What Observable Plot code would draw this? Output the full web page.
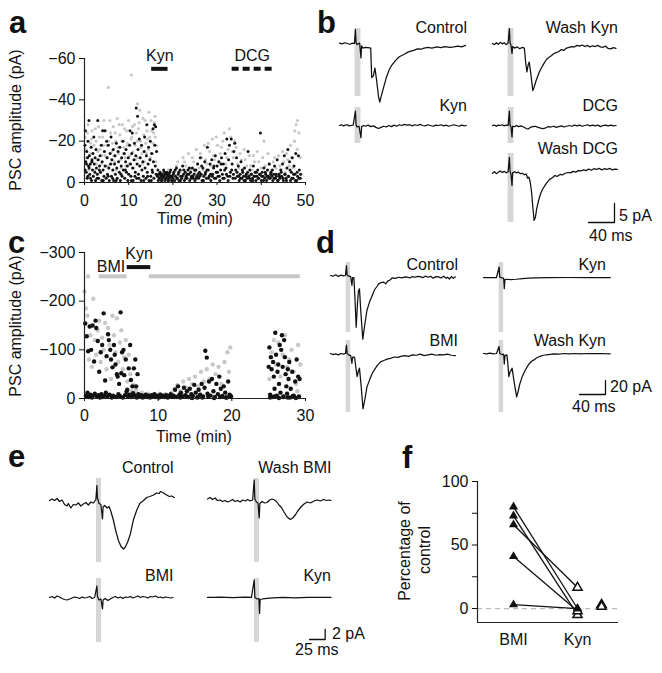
<!DOCTYPE html>
<html><head><meta charset="utf-8">
<script src="https://cdn.jsdelivr.net/npm/d3@7"></script>
<script src="https://cdn.jsdelivr.net/npm/@observablehq/plot@0.6"></script>
<style>
html,body{margin:0;padding:0;background:#fff;}
#fig{position:relative;width:662px;height:673px;overflow:hidden;font-family:"Liberation Sans",Arial,Helvetica,sans-serif;color:#111;background:#fff;}
</style></head><body><div id="fig"></div>
<script>
// ---------- Panel a: PSC amplitude over time (pA), [time min, amplitude pA]
const aBlack = [[0.1,-18],[0.2,-25],[0.3,-10],[0.4,-5],[0.5,-15],[0.6,-2],[0.7,-12],[0.8,-20],[0.9,-8],[1.0,-30],[1.1,-13],[1.2,-4],[1.3,-9],[1.5,-17],[1.6,-1],[1.7,-11],[1.8,-6],[1.9,-14],
[2.0,-3],[2.1,-22],[2.2,-9],[2.4,-12],[2.5,-1],[2.6,-16],[2.7,-7],[2.9,-4],[3.0,-30],[3.1,-11],[3.2,-2],[3.4,-8],[3.5,-13],[3.6,-5],[3.8,-18],[3.9,-1],
[4.0,-10],[4.1,-25],[4.2,-6],[4.4,-3],[4.5,-15],[4.6,-25],[4.7,-8],[4.9,-2],[5.0,-20],[5.1,-12],[5.2,-4],[5.4,-18],[5.5,-7],[5.6,-1],[5.8,-14],[5.9,-9],
[6.0,-22],[6.1,-3],[6.2,-11],[6.4,-6],[6.5,-16],[6.6,-1],[6.8,-9],[6.9,-13],[7.0,-4],[7.2,-19],[7.3,-7],[7.4,-2],[7.6,-15],[7.7,-10],[7.9,-5],
[8.0,-17],[8.1,-1],[8.3,-8],[8.4,-12],[8.5,-3],[8.7,-20],[8.8,-6],[9.0,-14],[9.1,-2],[9.3,-10],[9.4,-16],[9.5,-5],[9.7,-8],[9.8,-1],[9.9,-12],
[10.0,-4],[10.2,-18],[10.3,-25],[10.4,-9],[10.5,-3],[10.7,-14],[10.8,-24],[10.9,-7],[11.0,-1],[11.2,-11],[11.3,-19],[11.5,-5],[11.6,-13],[11.7,-36],[11.8,-2],[11.9,-9],
[12.0,-32],[12.1,-16],[12.2,-4],[12.4,-21],[12.5,-8],[12.6,-12],[12.8,-1],[12.9,-18],[13.0,-6],[13.2,-10],[13.3,-3],[13.5,-15],[13.6,-22],[13.7,-7],[13.9,-2],
[14.0,-13],[14.1,-28],[14.2,-5],[14.4,-9],[14.5,-17],[14.6,-1],[14.8,-11],[14.9,-20],[15.0,-3],[15.2,-14],[15.3,-6],[15.5,-26],[15.6,-10],[15.7,-2],[15.8,-28],[15.9,-18],[16.0,-8],[16.1,-27],[16.2,-4],[16.3,-15],
[0.15,-6],[0.45,-9],[0.75,-3],[1.05,-7],[1.35,-2],[1.65,-10],[2.35,-5],[2.85,-2],[3.35,-6],[4.25,-1],[5.35,-3],[6.35,-2],[7.15,-1],[8.25,-4],[9.25,-6],[10.6,-1],[11.4,-3],[12.3,-2],[13.4,-1],[14.3,-3],[15.1,-1],[15.4,-5],
[16.5,-3],[16.7,-1],[16.8,-4],[17.0,-2],[17.1,-5],[17.3,-3],[17.4,-1],[17.6,-4],[17.7,-2],[17.9,-6],[18.0,-3],[18.2,-1],[18.3,-4],[18.5,-2],[18.6,-5],[18.8,-3],[18.9,-1],[19.1,-4],[19.2,-2],[19.4,-3],[19.5,-6],[19.7,-1],[19.8,-3],
[16.6,-6],[16.9,-2],[17.2,-4],[17.5,-1],[17.8,-3],[18.1,-5],[18.4,-2],[18.7,-4],[19.0,-1],[19.3,-5],[19.6,-3],[19.9,-1],[20.1,-4],[20.5,-6],[20.9,-2],[21.3,-5],[21.7,-1],[22.1,-3],[22.5,-6],[22.9,-2],[23.3,-4],[23.7,-7],[24.1,-2],[24.5,-3],[24.9,-6],
[20.0,-2],[20.2,-5],[20.4,-1],[20.6,-3],[20.8,-7],[21.0,-2],[21.2,-4],[21.4,-1],[21.6,-6],[21.8,-3],[22.0,-2],[22.2,-8],[22.4,-4],[22.6,-1],[22.8,-5],[23.0,-3],[23.2,-2],[23.4,-6],[23.6,-4],[23.8,-1],[24.0,-5],[24.2,-3],[24.4,-7],[24.6,-2],[24.8,-4],
[25.0,-1],[25.2,-6],[25.4,-3],[25.6,-9],[25.8,-2],[26.0,-5],[26.2,-12],[26.4,-4],[26.6,-1],[26.8,-7],[27.0,-3],[27.2,-10],[27.4,-5],[27.6,-2],[27.8,-17],[28.0,-6],[28.2,-3],[28.4,-9],[28.6,-1],[28.8,-11],[29.0,-4],[29.2,-7],[29.4,-2],[29.6,-13],[29.8,-5],
[25.3,-2],[25.7,-4],[26.1,-3],[26.5,-8],[26.9,-1],[27.3,-4],[27.7,-6],[28.1,-2],[28.5,-4],[28.9,-3],[29.3,-8],[29.7,-2],
[30.0,-8],[30.2,-3],[30.4,-10],[30.6,-1],[30.8,-6],[31.0,-12],[31.2,-4],[31.4,-9],[31.6,-2],[31.8,-14],[32.0,-7],[32.2,-21],[32.4,-3],[32.6,-11],[32.8,-18],[33.0,-5],[33.2,-21],[33.4,-9],[33.6,-2],[33.8,-15],[34.0,-19],[34.2,-6],[34.4,-12],[34.6,-3],[34.8,-8],
[30.1,-5],[30.5,-3],[30.9,-9],[31.3,-2],[31.7,-6],[32.1,-4],[32.5,-1],[32.9,-3],[33.3,-6],[33.7,-4],[34.1,-2],[34.5,-5],[34.9,-3],
[35.0,-1],[35.2,-4],[35.4,-10],[35.6,-2],[35.8,-5],[36.0,-3],[36.2,-7],[36.4,-1],[36.6,-4],[36.8,-2],[37.0,-15],[37.2,-3],[37.4,-6],[37.6,-1],[37.8,-4],[38.0,-2],[38.2,-8],[38.4,-3],[38.6,-5],[38.8,-1],[39.0,-3],[39.2,-6],[39.4,-2],[39.6,-4],[39.8,-24],[40.0,-1],
[35.3,-2],[35.7,-6],[36.1,-1],[36.5,-3],[36.9,-5],[37.3,-2],[37.7,-4],[38.1,-1],[38.5,-3],[38.9,-5],[39.3,-2],[39.7,-4],
[40.2,-5],[40.4,-3],[40.6,-7],[40.8,-2],[41.0,-4],[41.2,-1],[41.4,-6],[41.6,-3],[41.8,-9],[42.0,-2],[42.2,-5],[42.4,-3],[42.6,-1],[42.8,-4],[43.0,-8],[43.2,-2],[43.4,-3],[43.6,-11],[43.8,-1],[44.0,-4],[44.2,-2],[44.4,-6],[44.6,-3],[44.8,-9],
[40.1,-3],[40.5,-1],[40.9,-5],[41.3,-3],[41.7,-2],[42.1,-4],[42.5,-6],[42.9,-2],[43.3,-4],[43.7,-1],[44.1,-3],[44.5,-5],[44.9,-2],
[45.0,-1],[45.2,-13],[45.4,-4],[45.6,-2],[45.8,-7],[46.0,-16],[46.2,-3],[46.4,-10],[46.6,-1],[46.8,-5],[47.0,-12],[47.2,-2],[47.4,-8],[47.6,-4],[47.8,-14],[48.0,-1],[48.2,-3],[48.4,-13],[48.6,-6],[48.8,-2],
[45.3,-4],[45.7,-1],[46.1,-3],[46.5,-6],[46.9,-2],[47.3,-4],[47.7,-1],[48.1,-5],[48.5,-2],[48.9,-4]];
const aGray = [[0.2,-22],[0.5,-12],[0.8,-28],[1.1,-8],[1.4,-19],[1.7,-25],[2.0,-14],[2.3,-6],[2.6,-20],[2.9,-11],[3.2,-27],[3.5,-16],[3.8,-9],[4.1,-22],[4.4,-30],[4.7,-13],[5.0,-18],[5.3,-8],[5.4,-46],[5.9,-24],[6.2,-15],[6.5,-27],[6.8,-10],[7.1,-20],[7.4,-31],[7.7,-14],[8.0,-23],[8.3,-7],[8.6,-28],[8.9,-17],[9.2,-12],[9.5,-25],[9.8,-19],[10.1,-9],[10.6,-52],[10.7,-22],[11.0,-15],[11.3,-28],[11.6,-11],[11.9,-20],[12.0,-38],[12.2,-26],[12.5,-35],[12.8,-17],[13.1,-9],[13.4,-23],[13.7,-30],[14.0,-14],[14.3,-21],[14.6,-34],[14.9,-12],[15.2,-25],[15.5,-19],[15.8,-29],[16.0,-22],[16.2,-10],
[0.35,-16],[0.65,-24],[0.95,-6],[1.25,-14],[1.55,-21],[1.85,-10],[2.15,-18],[2.45,-26],[2.75,-9],[3.05,-15],[3.35,-22],[3.65,-5],[3.95,-13],[4.25,-18],[4.55,-8],[4.85,-25],[5.15,-12],[5.45,-20],[5.75,-30],[6.05,-9],[6.35,-19],[6.65,-13],[6.95,-24],[7.25,-6],[7.55,-17],[7.85,-28],[8.15,-11],[8.45,-20],[8.75,-14],[9.05,-26],[9.35,-8],[9.65,-18],[9.95,-30],[10.25,-13],[10.55,-21],[10.85,-27],[11.15,-7],[11.45,-18],[11.75,-24],[12.05,-12],[12.35,-29],[12.65,-20],[12.95,-14],[13.25,-31],[13.55,-10],[13.85,-19],[14.15,-25],[14.45,-16],[14.75,-22],[15.05,-30],[15.35,-14],[15.65,-24],[15.95,-32],[16.25,-18],
[16.6,-4],[17.2,-2],[17.8,-5],[18.4,-3],[19.0,-6],[19.6,-2],
[20.2,-4],[20.8,-8],[21.4,-3],[22.0,-6],[22.6,-10],[23.2,-4],[23.8,-7],[24.4,-12],[25.0,-5],[25.6,-9],[26.2,-14],[26.8,-6],[27.4,-11],[28.0,-19],[28.6,-8],[29.2,-13],[29.8,-22],[30.4,-10],[31.0,-17],[31.6,-24],[32.2,-12],[32.8,-26],[33.4,-15],[34.0,-20],[34.6,-9],[35.2,-14],[35.8,-6],[36.4,-11],[37.0,-4],[37.6,-8],[38.2,-13],[38.8,-5],[39.4,-10],[40.0,-7],[40.6,-20],[41.2,-3],[41.8,-9],[42.4,-6],[43.0,-12],[43.6,-4],[44.2,-8],[44.8,-15],[45.4,-5],[46.0,-11],[46.6,-18],[47.2,-7],[47.6,-25],[47.9,-28],[48.2,-30],[48.5,-24],[48.8,-12],
[20.5,-6],[21.1,-10],[21.7,-5],[22.3,-12],[22.9,-8],[23.5,-14],[24.1,-6],[24.7,-10],[25.3,-16],[25.9,-7],[26.5,-12],[27.1,-18],[27.7,-9],[28.3,-15],[28.9,-21],[29.5,-11],[30.1,-18],[30.7,-14],[31.3,-20],[31.9,-9],[32.5,-16],[33.1,-22],[33.7,-12],[34.3,-17],[34.9,-7],[35.5,-11],[36.1,-16],[36.7,-8],[37.3,-13],[37.9,-6],[38.5,-10],[39.1,-15],[39.7,-4],[40.3,-12],[40.9,-8],[41.5,-14],[42.1,-5],[42.7,-10],[43.3,-7],[43.9,-13],[44.5,-6],[45.1,-10],[45.7,-14],[46.3,-8],[46.9,-12],[47.5,-20],[48.1,-16]];
const aXTicks = [0, 10, 20, 30, 40, 50];
const aYTicks = [-60, -40, -20, 0];
const aDrugs = ["Kyn", "DCG"];
const aDrugStart = [15.2, 33.4];
const aDrugEnd = [18.9, 42.5];

// ---------- Panel c
const cBlack = [[0.1,-154],[0.3,-128],[0.5,-97],[0.7,-148],[0.9,-100],[1.1,-150],[1.3,-76],[1.5,-160],[1.6,-145],[1.8,-118],[2.0,-55],[2.2,-95],[2.4,-110],[2.6,-175],[2.8,-37],[3.0,-87],[3.2,-132],[3.3,-120],[3.5,-100],[3.6,-80],[3.8,-64],[4.0,-110],[4.1,-90],[4.2,-70],[4.4,-50],[4.5,-45],[4.7,-30],[4.9,-177],[5.0,-52],[5.1,-95],[5.3,-100],[5.4,-48],[5.6,-80],[5.8,-18],[6.0,-62],[6.2,-110],[6.3,-38],[6.5,-25],[6.7,-62],[6.9,-80],[7.0,-25],[7.2,-50],
[0.2,-5],[0.4,-12],[0.6,-3],[0.8,-8],[1.0,-2],[1.2,-6],[1.4,-10],[1.7,-4],[1.9,-7],[2.1,-2],[2.3,-9],[2.5,-3],[2.7,-6],[2.9,-12],[3.1,-4],[3.4,-8],[3.7,-2],[3.9,-6],[4.3,-3],[4.6,-9],[4.8,-5],[5.2,-2],[5.5,-7],[5.7,-14],[5.9,-4],[6.1,-8],[6.4,-3],[6.6,-11],[6.8,-6],[7.1,-2],[7.3,-9],[7.5,-4],[7.7,-7],[7.9,-2],
[8.1,-5],[8.3,-8],[8.5,-3],[8.7,-6],[8.9,-2],[9.1,-7],[9.3,-4],[9.5,-9],[9.7,-3],[9.9,-6],[10.1,-2],[10.3,-8],[10.5,-4],[10.7,-6],[10.9,-3],[11.1,-7],[11.3,-2],[11.5,-5],[11.7,-9],[11.9,-4],
[12.1,-6],[12.3,-18],[12.5,-3],[12.7,-25],[12.9,-8],[13.1,-12],[13.3,-4],[13.5,-22],[13.7,-7],[13.9,-15],[14.1,-3],[14.3,-20],[14.5,-9],[14.7,-5],[14.9,-28],[15.1,-12],[15.3,-2],[15.5,-18],[15.7,-8],[15.9,-30],[16.1,-4],[16.3,-22],[16.4,-98],[16.6,-84],[16.7,-10],[16.9,-35],[17.1,-6],[17.3,-40],[17.5,-15],[17.7,-3],[17.9,-30],[18.1,-9],[18.3,-45],[18.5,-20],[18.7,-5],[18.9,-25],[19.1,-12],[19.3,-2],[19.5,-35],[19.7,-8],[19.9,-4],
[12.2,-3],[13.0,-2],[13.8,-4],[14.6,-1],[15.4,-3],[16.0,-2],[16.8,-4],[17.6,-1],[18.4,-3],[19.2,-2],[19.8,-5],
[25.0,-65],[25.1,-105],[25.2,-8],[25.3,-85],[25.4,-60],[25.5,-3],[25.6,-75],[25.7,-45],[25.8,-20],[25.9,-135],[26.0,-90],[26.1,-6],[26.2,-55],[26.3,-70],[26.4,-30],[26.5,-110],[26.6,-12],[26.7,-100],[26.8,-130],[26.9,-65],[27.0,-4],[27.1,-120],[27.2,-85],[27.3,-50],[27.4,-25],[27.5,-10],[27.6,-60],[27.7,-40],[27.8,-75],[27.9,-2],[28.0,-20],[28.2,-55],[28.4,-6],[28.6,-35],[28.8,-80],[29.0,-45],[29.1,-4],[29.2,-40],
[25.2,-2],[25.8,-4],[26.4,-1],[27.0,-3],[27.6,-2],[28.3,-5],[28.7,-1],[29.1,-3]];
const cGray = [[0.0,-220],[0.2,-185],[0.4,-170],[0.6,-80],[0.8,-130],[1.0,-65],[1.2,-205],[1.4,-120],[1.6,-90],[1.8,-140],[2.0,-160],[2.2,-75],[2.4,-125],[2.6,-100],[2.8,-155],[3.0,-60],[3.2,-145],[3.4,-110],[3.6,-40],[3.8,-170],[4.0,-130],[4.2,-95],[4.4,-165],[4.6,-75],[4.8,-115],[5.0,-140],[5.2,-60],[5.4,-85],[5.6,-120],[5.8,-35],[6.0,-90],[6.2,-50],[6.4,-15],[6.6,-28],[6.8,-10],[7.0,-18],[7.4,-8],[7.8,-12],[8.2,-6],[8.6,-10],[9.0,-4],[9.4,-8],[9.8,-5],[10.2,-10],[10.6,-6],[11.0,-9],[11.4,-5],[11.8,-12],
[12.2,-20],[12.6,-28],[13.0,-15],[13.4,-35],[13.8,-22],[14.2,-40],[14.6,-30],[15.0,-45],[15.4,-25],[15.8,-55],[16.2,-35],[16.6,-60],[17.0,-40],[17.4,-70],[17.8,-50],[18.2,-65],[18.6,-30],[19.0,-75],[19.4,-95],[19.6,-55],[19.8,-105],
[25.1,-40],[25.4,-95],[25.7,-120],[26.0,-70],[26.3,-115],[26.6,-45],[26.9,-90],[27.2,-130],[27.5,-65],[27.8,-80],[28.1,-100],[28.4,-55],[28.7,-30],[28.9,-15],[29.0,-110],[29.3,-70]];
const cXTicks = [0, 10, 20, 30];
const cYTicks = [-300, -200, -100, 0];
const cGrayBarStart = [0.3, 2.0, 8.8];
const cGrayBarEnd = [0.8, 5.8, 29.3];
const cKynStart = 5.8, cKynEnd = 9.0;

// ---------- Traces [time ms, current pA]
const bControl = [[0,0.1],[4,-0.1],[8,0.2],[12,0],[16,-0.2],[20,0.1],[23,0],[24.5,3.7],[25.5,0.2],[27,-0.3],[29,0],[31,0.1],[33,-3.8],[34,-0.6],[36,-1.2],[40,-1],[44,-1.1],[48,-1.2],[49.5,-9],[52,-8.5],[54.5,-6.5],[57,-9.5],[60,-14],[62,-15.4],[64,-14],[68,-11.5],[72,-9],[76,-7.1],[80,-5.8],[86,-4.5],[92,-3.5],[99,-2.9],[106,-2.2],[114,-1.8],[120,-1.4],[126,-1.5],[130,-1.2],[136,-1],[142,-1.2],[150,-0.9],[156,-1.1],[162,-0.8],[170,-1],[176,-0.9],[182,-0.7],[188,-0.9],[194,-0.5]];
const bKyn = [[0,0],[3,0.2],[6,-0.1],[9,0.1],[12,0.2],[15,-0.1],[18,0],[21,0.1],[24.5,3.8],[25.5,0.1],[27,-0.4],[30,-0.2],[33,-3.2],[34,-0.3],[37,0],[40,-0.2],[44,0.1],[48,-0.3],[52,-0.1],[56,-0.5],[60,-0.8],[64,-0.5],[68,-0.2],[72,-0.4],[76,0],[80,-0.3],[84,0.1],[88,-0.2],[92,0.2],[96,0],[100,0.3],[104,0.1],[108,0.2],[112,-0.1],[116,0.2],[120,0],[124,0.3],[128,0],[132,-0.1],[136,0.2],[140,0],[144,-0.2],[148,0.1],[152,0],[156,0.2],[160,-0.1],[164,0.1],[168,-0.2],[172,0],[176,0.2],[180,0],[184,-0.2],[188,0.1],[192,-0.1],[195,0]];
const bWashKyn = [[0,0],[3,-0.3],[6,0.2],[9,-0.2],[12,0.3],[15,-0.1],[18,0.2],[21,-0.3],[24,0.1],[26,3.9],[27,0.2],[28.5,-0.5],[30,-2.6],[31,-0.8],[34,-1.2],[38,-0.9],[42,-1.4],[46,-1],[49,-1.2],[51,-5],[53,-7.5],[55,-5.5],[56.5,-4.9],[59,-8],[62,-12.4],[64,-11.5],[67,-9.8],[69,-8.9],[72,-7.5],[75,-6.5],[79,-5.3],[83,-4.2],[87,-3.6],[90,-3.3],[94,-2.7],[98,-2.4],[102,-2.1],[106,-1.6],[110,-1.8],[114,-1.2],[118,-1.0],[122,-0.8],[126,-0.9],[130,-0.5],[134,-0.7],[138,-0.4],[142,-0.8],[146,-0.5],[150,-0.9],[154,-0.6],[158,-0.8],[162,-0.5],[166,-0.9],[170,-1],[174,-0.7],[178,-1.3],[182,-1.4],[186,-1.1],[190,-1.3]];
const bDCG = [[0,0],[3,0.1],[6,-0.2],[9,0.1],[12,0],[15,0.2],[18,-0.1],[21,0.1],[24,0],[26,3.8],[27,0.1],[28.5,-0.4],[30,-3],[31,-0.2],[34,-0.3],[37,0],[40,-0.3],[44,-0.1],[48,-0.4],[52,-0.8],[55,-0.9],[58,-0.5],[62,-0.3],[66,-0.2],[70,-0.5],[74,-0.7],[78,-0.8],[82,-0.6],[86,-0.3],[90,-0.4],[94,-0.2],[98,-0.5],[102,-0.3],[106,-0.1],[110,-0.4],[114,-0.2],[118,0],[122,-0.2],[126,0.1],[130,-0.1],[134,0.1],[138,-0.2],[142,0],[146,0.2],[150,-0.1],[154,0.1],[158,-0.1],[162,0.1],[166,-0.3],[170,0],[174,0.1],[178,-0.1],[182,0.1],[186,-0.1],[190,0]];
const bWashDCG = [[0,-0.2],[3,0.2],[6,-0.3],[9,0.1],[12,0.4],[15,0],[18,0.3],[21,-0.1],[24,0.2],[26,4],[27,0.3],[28.5,-0.5],[30,-3.4],[31,-0.1],[34,0.2],[37,-0.1],[40,0.1],[43,-0.3],[46,-0.2],[49,-0.6],[52,-0.4],[54,-1.5],[56,-1.2],[58,-2.5],[60,-5],[62,-9],[64,-12.6],[66,-11.8],[68,-9.5],[71,-7.3],[74,-5.6],[77,-4.4],[80,-3.6],[84,-2.6],[88,-1.8],[92,-1.4],[96,-0.8],[100,-1],[104,-0.5],[108,-0.6],[112,-0.2],[116,0],[120,-0.1],[124,0.3],[128,0.1],[132,0.5],[136,0.4],[140,0.7],[144,0.5],[148,0.9],[152,0.6],[156,1.0],[160,0.8],[164,1.1],[168,0.7],[172,1.0],[176,0.8],[180,1.1],[184,0.7],[188,0.9],[192,0.8]];
const dControl = [[0,0],[4,-1],[8,1],[12,-1.5],[16,0.5],[20,-0.5],[23,0],[24.6,14],[25.5,1],[28,-1],[31,-1.5],[33,-14],[34,-3],[36,-3],[37.5,-30],[39.5,-74],[41.5,-40],[43,-22],[44.6,-19],[46.5,-50],[49.7,-91],[52,-75],[56,-50],[60,-38],[64,-29],[68,-20],[72,-15],[74,-12],[78,-10],[82,-9.5],[85,-12],[88,-8],[92,-6],[95,-3.3],[100,-4],[105,-2.5],[110,-3.5],[115,-2],[118,-2.4],[122,-3.5],[126,-1.5],[130,-2.5],[134,-1.2],[138,-1.5],[142,-3],[146,-1],[150,-2.5],[154,-1.2],[158,-4],[162,-1.5],[166,-2],[170,-3.5],[174,-1],[178,-4],[180,-2.5],[183,-5],[186,-1.5],[189,-4],[192,-2]];
const dKyn = [[0,0],[10,0],[20,0],[24,15],[25,0.5],[28,-0.5],[31,-1],[32,-16],[33,-3],[36,-2.5],[42,-3],[50,-2.5],[60,-1.5],[70,-1],[80,-0.5],[100,-0.3],[130,0],[160,0],[195,0]];
const dBMI = [[0,0],[4,-1.5],[8,-0.5],[12,-2],[16,0],[20,-1],[23,0],[24.6,12],[25.5,0],[28,-2],[31,-3],[33,-14],[34,-5],[37,-5],[39,-20],[41,-33],[43,-25],[44.6,-21],[47,-45],[50,-79],[53,-65],[56,-48],[60,-38],[64,-29],[67,-24],[72,-17],[77,-12],[82,-10],[87,-8],[92,-7],[98,-5],[104,-5.5],[108,-4],[114,-3],[120,-4],[126,-2],[132,-2.5],[138,-1],[144,-3],[150,-2],[156,-1],[162,-2.5],[168,-1.5],[174,-2],[180,-1],[186,-2.5],[192,-3]];
const dWashKyn = [[0,0],[5,-0.5],[10,0.5],[15,-0.5],[20,0],[24,10],[25,0],[28,-1.5],[31,-1],[32,-15],[33,-3],[36,-2],[37.5,-15],[39,-33],[41,-26],[44,-21],[47,-40],[51,-62],[53,-55],[56,-43],[60,-32],[63,-26],[66,-21],[70,-15],[74,-11],[77,-9.5],[82,-6],[87,-4],[92,-2.5],[100,-1.5],[108,-0.5],[116,-1],[124,0],[132,-0.5],[140,0],[150,-0.5],[160,0],[170,-0.3],[180,0],[195,-0.5]];
const eControl = [[0,0],[4,0.3],[8,0],[12,0.4],[16,-0.2],[20,0.1],[24,-0.8],[28,-1.1],[30,-0.6],[34,-1.5],[38,-0.8],[42,-0.9],[46,-0.5],[50,-1.1],[54,-0.7],[58,-0.4],[62,-0.9],[66,-0.3],[70,-0.5],[74,0.2],[75.6,3],[76.5,0.5],[79,-0.6],[82,-0.8],[84.5,-3.7],[85.5,-1.3],[88,-1.0],[92,-1.5],[95,-1.2],[98,-2.2],[102,-4],[106,-6.2],[110,-8],[114,-9.2],[118,-9.7],[121,-9.3],[125,-8.2],[129,-6.7],[134,-3.8],[139,-2],[144,-0.6],[150,0],[155,0.6],[160,0.8],[166,1.1],[171,1.5],[175,1.4],[177,1.8],[181,1.6],[184,1.3],[187,1.1],[191,0.8],[195,0.9],[199,0.6]];
const eWashBMI = [[0,0.3],[4,0.6],[8,0.2],[12,0.5],[16,0],[20,0.1],[24,-0.2],[28,0],[32,-0.3],[36,-0.1],[40,0.2],[44,-0.2],[48,0],[52,-0.3],[56,0.1],[60,-0.1],[64,0.2],[68,-0.1],[72,0.1],[74.5,4.1],[75.5,0.3],[78,-0.3],[80.5,-0.5],[82.5,-3.5],[83.5,-0.6],[87,-0.2],[91,-0.5],[95,-0.4],[99,0.1],[103,0.3],[107,0.1],[110,-0.2],[114,-0.9],[118,-1.4],[122,-2.3],[127,-3.3],[132,-3.8],[136,-3.5],[140,-2.9],[144,-2.1],[149,-1.3],[154,-0.7],[159,-0.3],[164,-0.5],[170,-0.1],[175,0.1],[180,-0.1],[185,0.2],[190,0],[194,0.1],[197,0]];
const eBMI = [[0,0],[4,0.2],[8,-0.1],[12,0.3],[16,0.1],[20,-0.2],[24,-0.4],[28,-0.5],[32,-0.3],[36,-0.1],[40,0.1],[44,0],[48,-0.2],[52,0.1],[56,-0.1],[60,0],[64,0.2],[68,-0.2],[72,0],[75.6,2.3],[76.5,0.2],[79,-0.5],[82,-0.3],[84.5,-2.3],[85.5,-0.5],[89,-0.2],[93,-0.6],[97,-0.3],[101,0],[105,0.2],[109,-0.1],[113,0.1],[117,-0.2],[121,0.1],[125,0],[129,0.2],[133,-0.1],[137,0.1],[141,0.3],[145,0],[149,0.2],[153,0.1],[157,-0.1],[161,0.2],[165,0.1],[169,0.3],[173,0],[177,0.1],[181,-0.1],[185,0.1],[189,0],[193,-0.1],[197,0]];
const eKyn = [[0,0],[10,0],[20,0.05],[30,0],[40,-0.05],[50,0],[60,0.05],[70,0],[74.5,3.5],[75.5,0],[79,-0.3],[82,-0.2],[83,-3.2],[84,-0.4],[88,-0.3],[95,-0.2],[105,-0.1],[120,0],[140,-0.1],[160,0],[180,0],[197,0]];
// stimulus windows (ms) and scale bars [ms, pA]
const stimB = [24, 33], stimD = [24, 31], stimE = [75, 83];
const scaleB = [40, 5], scaleD = [40, 20], scaleE = [25, 2];

// ---------- Panel f: percentage of control
const fGroups = ["BMI", "Kyn"];
const fGroupX = [1, 2, 2.375];
const fBMI = [80, 73, 66, 41, 3];
const fKyn = [0, -5, 16.5, -2, 0];
const fKynOpen = [false, true, true, true, false];
const fKynOnly = [3, 1.5];
const fYTicks = [0, 25, 50, 75, 100];

// ================= drawing =================
const fig = document.getElementById("fig");
const FONT = "'Liberation Sans', Arial, Helvetica, sans-serif";
const FS = 16;
const baseStyle = {fontFamily: FONT, fontSize: FS + "px", color: "#111", background: "transparent", overflow: "visible"};
const INK = "#111";

function place(node, left, top) {
  node.style.position = "absolute";
  node.style.left = left + "px";
  node.style.top = top + "px";
  fig.appendChild(node);
}
function label(s, x, y, o = {}) {
  const fs = o.size || FS;
  const d = document.createElement("div");
  d.textContent = s;
  d.style.position = "absolute";
  d.style.whiteSpace = "nowrap";
  d.style.lineHeight = "1";
  d.style.fontSize = fs + "px";
  d.style.fontWeight = o.bold ? "bold" : "normal";
  d.style.left = x + "px";
  if (o.rotate) {
    d.style.top = y + "px";
    d.style.transform = "translate(-50%,-50%) rotate(-90deg)";
  } else {
    d.style.top = (o.baseline ? y - 0.8465 * fs : y - 0.4885 * fs) + "px";
    d.style.transform = o.anchor === "end" ? "translateX(-100%)" : o.anchor === "middle" ? "translateX(-50%)" : "none";
  }
  fig.appendChild(d);
}

// Panel a
place(Plot.plot({
  width: 330, height: 180, marginLeft: 84, marginRight: 25, marginTop: 28, marginBottom: 28,
  style: baseStyle,
  x: {domain: [0, 50]},
  y: {domain: [0, -60]},
  marks: [
    Plot.dot(aGray, {x: d => d[0], y: d => d[1], r: 1.6, fill: "#c8c8c8"}),
    Plot.dot(aBlack, {x: d => d[0], y: d => d[1], r: 1.5, fill: INK}),
    Plot.ruleX([0], {stroke: "#222", strokeWidth: 1.2}),
    Plot.ruleY([0], {stroke: "#222", strokeWidth: 1.2}),
    Plot.axisY({ticks: aYTicks, tickSize: 5, tickPadding: 4, label: null}),
    Plot.axisX({ticks: aXTicks, tickSize: 3, tickPadding: 9, label: null}),
    Plot.ruleY([0], {y: -55, x1: aDrugStart[0], x2: aDrugEnd[0], stroke: INK, strokeWidth: 4}),
    Plot.ruleY([0], {y: -55, x1: aDrugStart[1], x2: aDrugEnd[1], stroke: INK, strokeWidth: 4, strokeDasharray: "7,4"}),
    Plot.text(aDrugs, {x: (d, i) => (aDrugStart[i] + aDrugEnd[i]) / 2, y: -55, dy: -13, text: d => d, fill: INK})
  ]
}), 0, 30);
label("PSC amplitude (pA)", 16, 120, {rotate: true});
label("Time (min)", 195, 219, {anchor: "middle"});

// Panel c
place(Plot.plot({
  width: 330, height: 190, marginLeft: 84, marginRight: 25, marginTop: 22, marginBottom: 22,
  style: baseStyle,
  x: {domain: [0, 30]},
  y: {domain: [0, -300]},
  marks: [
    Plot.dot(cGray, {x: d => d[0], y: d => d[1], r: 2.2, fill: "#c8c8c8"}),
    Plot.dot(cBlack, {x: d => d[0], y: d => d[1], r: 2.2, fill: INK}),
    Plot.ruleX([0], {stroke: "#222", strokeWidth: 1.2}),
    Plot.ruleY([0], {stroke: "#222", strokeWidth: 1.2}),
    Plot.axisY({ticks: cYTicks, tickSize: 5, tickPadding: 4, label: null}),
    Plot.axisX({ticks: cXTicks, tickSize: 3, tickPadding: 8.5, label: null}),
    Plot.ruleY(cGrayBarStart, {y: -251, x1: d => d, x2: (d, i) => cGrayBarEnd[i], stroke: "#c8c8c8", strokeWidth: 4}),
    Plot.ruleY([0], {y: -270, x1: cKynStart, x2: cKynEnd, stroke: INK, strokeWidth: 4}),
    Plot.text(["Kyn"], {x: (cKynStart + cKynEnd) / 2, y: -270, dy: -13, text: d => d, fill: INK}),
    Plot.text(["BMI"], {x: cKynStart, y: -270, dx: -2, textAnchor: "end", text: d => d, fill: INK})
  ]
}), 0, 230);
label("PSC amplitude (pA)", 16, 326, {rotate: true});
label("Time (min)", 194, 437, {anchor: "middle"});

// Traces
function trace(data, stim, x0, barTop, barBottom, baseline, pxMs, pxPA, spanMs) {
  const yHi = (baseline - barTop) / pxPA, yLo = (baseline - barBottom) / pxPA;
  place(Plot.plot({
    width: spanMs * pxMs, height: barBottom - barTop, margin: 0,
    style: baseStyle,
    x: {domain: [0, spanMs], axis: null},
    y: {domain: [yLo, yHi], axis: null},
    marks: [
      Plot.rect([stim], {x1: d => d[0], x2: d => d[1], fill: "#d6d6d6"}),
      Plot.line(data, {x: d => d[0], y: d => d[1], stroke: INK, strokeWidth: 1.25, strokeLinejoin: "round"})
    ]
  }), x0, barTop);
}
function scaleBar(sb, left, top, pxMs, pxPA) {
  const [ms, pA] = sb;
  place(Plot.plot({
    width: ms * pxMs, height: pA * pxPA, margin: 0, style: baseStyle,
    x: {domain: [0, ms], axis: null}, y: {domain: [0, pA], axis: null},
    marks: [Plot.line([[0, 0], [ms, 0], [ms, pA]], {x: d => d[0], y: d => d[1], stroke: INK, strokeWidth: 1.3})]
  }), left, top);
}

// b: 0.65 px/ms, 3.8 px/pA
trace(bControl, stimB, 339, 28, 96, 43, 0.65, 3.8, 195);
trace(bKyn, stimB, 339, 107, 143, 125, 0.65, 3.8, 195);
trace(bWashKyn, stimB, 492, 28, 96, 43, 0.65, 3.8, 195);
trace(bDCG, stimB, 492, 107, 143, 125, 0.65, 3.8, 195);
trace(bWashDCG, stimB, 492, 153, 222, 172, 0.65, 3.8, 195);
scaleBar(scaleB, 588, 202.5, 0.65, 3.8);
label("Control", 467, 27.5, {anchor: "end"});
label("Kyn", 467, 105.5, {anchor: "end"});
label("Wash Kyn", 618, 27.5, {anchor: "end"});
label("DCG", 618, 105.5, {anchor: "end"});
label("Wash DCG", 618, 149, {anchor: "end"});
label("5 pA", 619, 215.5);
label("40 ms", 589, 235.5);

// d: 0.65 px/ms, 0.7 px/pA
trace(dControl, stimD, 330, 262, 332, 275, 0.65, 0.7, 195);
trace(dKyn, stimD, 483, 262, 332, 277, 0.65, 0.7, 195);
trace(dBMI, stimD, 330, 340, 412, 353, 0.65, 0.7, 195);
trace(dWashKyn, stimD, 483, 340, 412, 353, 0.65, 0.7, 195);
scaleBar(scaleD, 579, 380, 0.65, 0.7);
label("Control", 458, 265, {anchor: "end"});
label("Kyn", 606, 265, {anchor: "end"});
label("BMI", 458, 340.5, {anchor: "end"});
label("Wash Kyn", 606, 340.5, {anchor: "end"});
label("20 pA", 610, 387);
label("40 ms", 572, 407);

// e: 0.627 px/ms, 5 px/pA
trace(eControl, stimE, 49.3, 478, 562, 500, 0.627, 5, 200);
trace(eWashBMI, stimE, 206.7, 478, 562, 500, 0.627, 5, 200);
trace(eBMI, stimE, 49.3, 578, 642, 597, 0.627, 5, 200);
trace(eKyn, stimE, 206.7, 578, 642, 597, 0.627, 5, 200);
scaleBar(scaleE, 309.3, 629, 0.627, 5);
label("Control", 173.5, 467.5, {anchor: "end"});
label("Wash BMI", 331.5, 467.5, {anchor: "end"});
label("BMI", 173.5, 575.5, {anchor: "end"});
label("Kyn", 331, 575.5, {anchor: "end"});
label("2 pA", 332, 634);
label("25 ms", 295, 650);

// Panel f
const fPairs = fBMI.map((v, i) => ({bmi: v, kyn: fKyn[i], open: fKynOpen[i]}));
place(Plot.plot({
  width: 282, height: 200, marginLeft: 97, marginRight: 44, marginTop: 21, marginBottom: 38,
  style: baseStyle,
  x: {domain: [0.4375, 2.64]},
  y: {domain: [-11, 100]},
  marks: [
    Plot.ruleY([0], {stroke: "#bdbdbd", strokeWidth: 1.2, strokeDasharray: "5,4"}),
    Plot.ruleX([0.4375], {stroke: "#222", strokeWidth: 1.2}),
    Plot.ruleY([-11], {stroke: "#222", strokeWidth: 1.2}),
    Plot.axisY({ticks: fYTicks, tickFormat: d => d % 50 === 0 ? String(d) : "", tickSize: 5, tickPadding: 4, label: null}),
    Plot.axisX({ticks: [1, 2], tickFormat: d => fGroups[d - 1], tickSize: 0, tickPadding: 11, label: null}),
    Plot.link(fPairs, {x1: fGroupX[0], y1: "bmi", x2: fGroupX[1], y2: "kyn", stroke: INK, strokeWidth: 1.3}),
    Plot.dot(fPairs, {x: fGroupX[0], y: "bmi", symbol: "triangle", r: 3.4, fill: INK}),
    Plot.dot(fPairs.filter(d => d.open), {x: fGroupX[1], y: "kyn", symbol: "triangle", r: 3.4, fill: "white", stroke: INK, strokeWidth: 1.5}),
    Plot.dot(fPairs.filter(d => !d.open), {x: fGroupX[1], y: "kyn", symbol: "triangle", r: 3.4, fill: INK}),
    Plot.dot(fKynOnly, {x: fGroupX[2], y: d => d, symbol: "triangle", r: 3.4, fill: "white", stroke: INK, strokeWidth: 1.5})
  ]
}), 380, 460);
label("Percentage of", 405, 551, {rotate: true});
label("control", 425, 550, {rotate: true});

// panel letters
label("a", 9, 33, {bold: true, size: 31, baseline: true});
label("b", 317, 33, {bold: true, size: 31, baseline: true});
label("c", 8, 253, {bold: true, size: 31, baseline: true});
label("d", 316, 253, {bold: true, size: 31, baseline: true});
label("e", 8, 467, {bold: true, size: 31, baseline: true});
label("f", 402, 468, {bold: true, size: 31, baseline: true});
</script></body></html>
